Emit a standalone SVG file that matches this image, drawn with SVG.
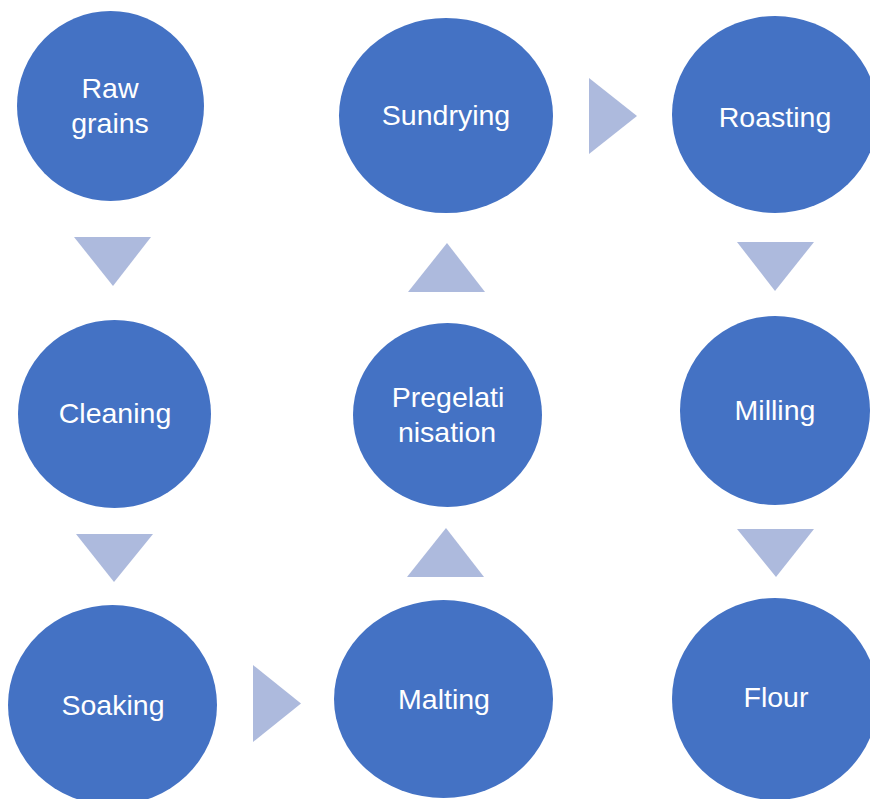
<svg xmlns="http://www.w3.org/2000/svg" width="870" height="799" viewBox="0 0 870 799">
<style>
.node{fill:#4472C4}
.lbl{fill:#FFFFFF;font-family:"Liberation Sans",Arial,sans-serif;font-size:28.5px;text-anchor:middle}
.arr{fill:#ADBADD}
</style>
<rect width="870" height="799" fill="#FFFFFF"/>
<g id="connectors">
<polygon class="arr" points="74,237 151,237 113,286"/>
<polygon class="arr" points="76,534 153,534 114,582"/>
<polygon class="arr" points="253,665 253,742 301,703.5"/>
<polygon class="arr" points="407,577 484,577 446,528"/>
<polygon class="arr" points="408,292 485,292 447,243"/>
<polygon class="arr" points="589,78 589,154 637,116"/>
<polygon class="arr" points="737,242 814,242 775,291"/>
<polygon class="arr" points="737,529 814,529 776,577"/>
</g>
<g id="raw-grains">
<ellipse class="node" cx="110.5" cy="106" rx="93.5" ry="95"/>
<text class="lbl" x="110" y="98">Raw</text>
<text class="lbl" x="110" y="133">grains</text>
</g>
<g id="cleaning">
<ellipse class="node" cx="114.5" cy="414" rx="96.5" ry="94"/>
<text class="lbl" x="115" y="423">Cleaning</text>
</g>
<g id="soaking">
<ellipse class="node" cx="112.5" cy="705" rx="104.5" ry="100"/>
<text class="lbl" x="113" y="715">Soaking</text>
</g>
<g id="malting">
<ellipse class="node" cx="443.5" cy="699" rx="109.5" ry="99"/>
<text class="lbl" x="444" y="709">Malting</text>
</g>
<g id="pregelatinisation">
<ellipse class="node" cx="447.5" cy="415" rx="94.5" ry="92"/>
<text class="lbl" x="448" y="407">Pregelati</text>
<text class="lbl" x="447" y="442">nisation</text>
</g>
<g id="sundrying">
<ellipse class="node" cx="446" cy="115.5" rx="107" ry="97.5"/>
<text class="lbl" x="446" y="125">Sundrying</text>
</g>
<g id="roasting">
<ellipse class="node" cx="775" cy="114.5" rx="103" ry="98.5"/>
<text class="lbl" x="775" y="127">Roasting</text>
</g>
<g id="milling">
<ellipse class="node" cx="775" cy="410.5" rx="95" ry="94.5"/>
<text class="lbl" x="775" y="420">Milling</text>
</g>
<g id="flour">
<ellipse class="node" cx="775" cy="699" rx="103" ry="101"/>
<text class="lbl" x="776" y="707">Flour</text>
</g>
</svg>
